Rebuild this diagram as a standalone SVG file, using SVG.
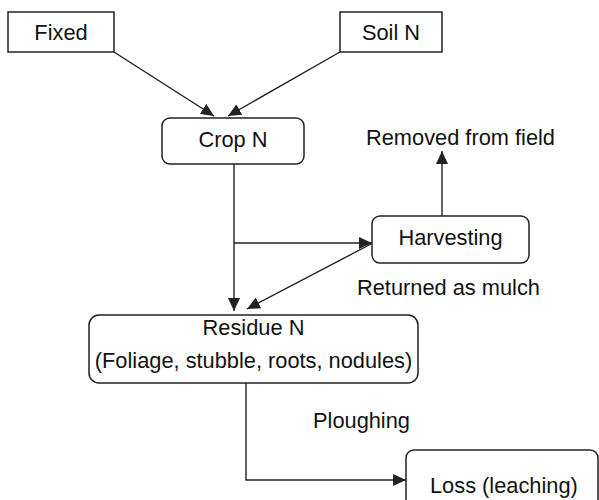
<svg xmlns="http://www.w3.org/2000/svg" width="599" height="500" viewBox="0 0 599 500">
<style>
.box{fill:#fff;stroke:#222;stroke-width:1.5}
.t{font-family:"Liberation Sans",Arial,sans-serif;font-size:21.8px;fill:#111}
.c{text-anchor:middle}
.ln{fill:none;stroke:#222;stroke-width:1.4;marker-end:url(#ah)}
.pl{fill:none;stroke:#222;stroke-width:1.4}
</style>
<defs>
<marker id="ah" markerUnits="userSpaceOnUse" markerWidth="13" markerHeight="12" refX="13" refY="6" orient="auto" viewBox="0 0 13 12">
<path d="M0,0 L13,6 L0,12 Z" fill="#222"/>
</marker>
</defs>
<rect width="599" height="500" fill="#fff"/>
<g id="connectors">
<line class="ln" x1="114" y1="52" x2="214" y2="116"/>
<line class="ln" x1="340" y1="52" x2="228" y2="116"/>
<line class="ln" x1="234" y1="164" x2="234" y2="311"/>
<line class="ln" x1="234" y1="243" x2="372" y2="243"/>
<line class="ln" x1="371" y1="244" x2="247" y2="309"/>
<line class="ln" x1="442" y1="216" x2="442" y2="151"/>
<polyline class="ln" points="246,383 246,480 406,480"/>
</g>
<g id="fixed"><rect class="box" x="8" y="12" width="106" height="40"/><text class="t c" x="61" y="40">Fixed</text></g>
<g id="soil"><rect class="box" x="340" y="12" width="102" height="40"/><text class="t c" x="391" y="40">Soil N</text></g>
<g id="crop"><rect class="box" x="162" y="118" width="142" height="46" rx="8"/><text class="t c" x="233" y="147">Crop N</text></g>
<g id="removed"><text class="t" x="366" y="145">Removed from field</text></g>
<g id="harvesting"><rect class="box" x="372" y="216" width="157" height="47" rx="8"/><text class="t c" x="450.5" y="245">Harvesting</text></g>
<g id="mulch"><text class="t" x="357" y="295">Returned as mulch</text></g>
<g id="residue"><rect class="box" x="89" y="315" width="329" height="68" rx="10"/><text class="t c" x="253.5" y="335">Residue N</text><text class="t c" x="253.5" y="368">(Foliage, stubble, roots, nodules)</text></g>
<g id="ploughing"><text class="t" x="313" y="428">Ploughing</text></g>
<g id="loss"><rect class="box" x="406" y="450" width="192" height="70" rx="8"/><text class="t" x="430" y="493">Loss (leaching)</text></g>
</svg>
